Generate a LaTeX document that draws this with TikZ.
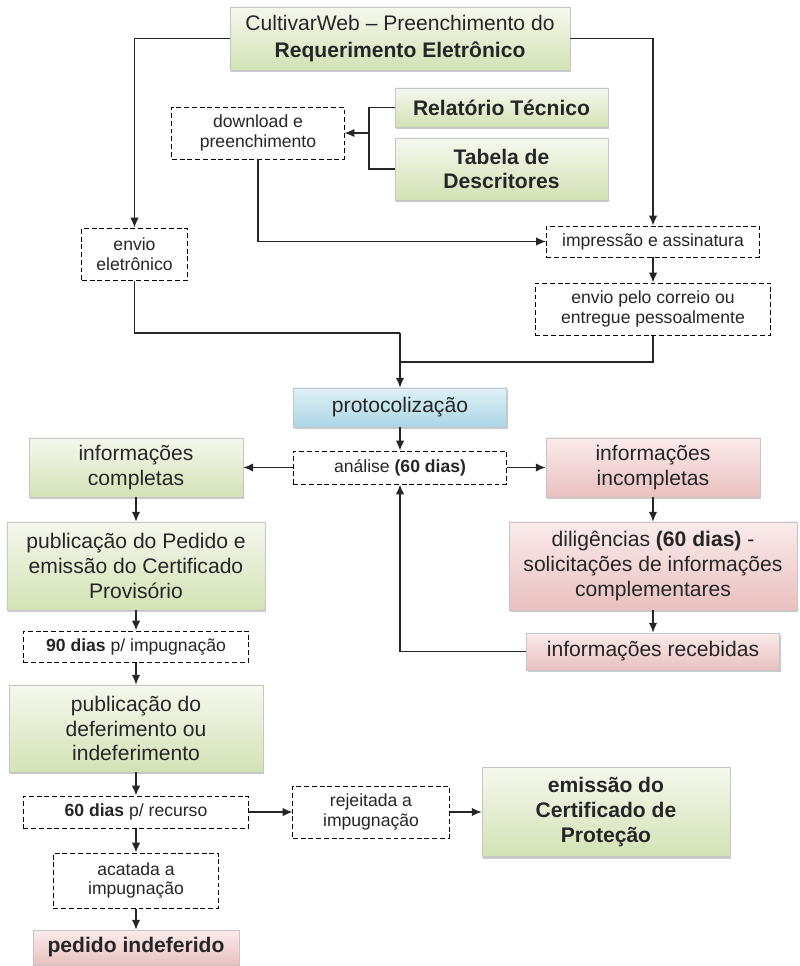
\documentclass[tikz,border=0pt]{standalone}
\usepackage{fontspec}
\setmainfont{Liberation Sans}
\usetikzlibrary{arrows.meta,shadows}

\definecolor{grtop}{HTML}{F5F8EE}
\definecolor{grbot}{HTML}{D3E2B5}
\definecolor{pktop}{HTML}{FBEBEB}
\definecolor{pkbot}{HTML}{EAC0C0}
\definecolor{bltop}{HTML}{E0F1F7}
\definecolor{blbot}{HTML}{AAD6E5}

\newcommand{\bigtxt}{\fontsize{15}{17.5}\selectfont}
\newcommand{\smltxt}{\fontsize{12.5}{14}\selectfont}

\tikzset{
  box/.style={draw=gray!45, inner sep=0pt, align=center, text=black!85,
    drop shadow={shadow xshift=1pt, shadow yshift=-1.5pt, fill=gray!70, opacity=.6}},
  greenbox/.style={box, top color=grtop, bottom color=grbot, font=\bigtxt},
  pinkbox/.style={box, top color=pktop, bottom color=pkbot, font=\bigtxt},
  bluebox/.style={box, top color=bltop, bottom color=blbot, font=\bigtxt},
  dashbox/.style={draw, dashed, dash pattern=on 3.5pt off 2pt, line width=.7pt,
    fill=white, inner sep=0pt, align=center, font=\smltxt, text=black!85},
  arr/.style={-{Latex[length=7pt,width=6pt]}, line width=1pt, black!85},
  ln/.style={line width=1pt, black!85}
}

\begin{document}
\begin{tikzpicture}[x=0.025cm,y=-0.025cm]
\useasboundingbox (0,0) rectangle (800,966);

\node[greenbox, minimum width=8.5cm, minimum height=1.575cm, font=\fontsize{15}{19}\selectfont] (web) at (400,38.5) {CultivarWeb -- Preenchimento do\\\textbf{Requerimento Eletrônico}};
\node[greenbox, minimum width=5.325cm, minimum height=0.975cm] (relat) at (501.5,107.5) {\textbf{Relatório Técnico}};
\node[greenbox, minimum width=5.325cm, minimum height=1.55cm] (tabela) at (501.5,169) {\textbf{Tabela de}\\\textbf{Descritores}};
\node[dashbox, minimum width=4.3cm, minimum height=1.3cm] (down) at (258,133) {download e\\preenchimento};
\node[dashbox, minimum width=5.325cm, minimum height=0.775cm] (impr) at (653,241.5) {impressão e assinatura};
\node[dashbox, minimum width=2.625cm, minimum height=1.3cm] (envel) at (134.5,254) {envio\\eletrônico};
\node[dashbox, minimum width=5.875cm, minimum height=1.3cm] (correio) at (653,309) {envio pelo correio ou\\entregue pessoalmente};

\node[bluebox, minimum width=5.325cm, minimum height=0.975cm] (prot) at (400,407.5) {protocolização};
\node[dashbox, minimum width=5.325cm, minimum height=0.825cm] (anal) at (400,467.5) {análise \textbf{(60 dias)}};
\node[greenbox, minimum width=5.35cm, minimum height=1.475cm] (compl) at (136,467.5) {informações\\completas};
\node[pinkbox, minimum width=5.35cm, minimum height=1.475cm] (incompl) at (653,467.5) {informações\\incompletas};
\node[greenbox, minimum width=6.45cm, minimum height=2.2cm] (pubped) at (136,566) {publicação do Pedido e\\emissão do Certificado\\Provisório};
\node[pinkbox, minimum width=7.2cm, minimum height=2.2cm] (dilig) at (653,566) {diligências \textbf{(60 dias)} -\\solicitações de informações\\complementares};
\node[dashbox, minimum width=5.625cm, minimum height=0.775cm] (d90) at (136,646.5) {\textbf{90 dias} p/ impugnação};
\node[pinkbox, minimum width=6.325cm, minimum height=0.925cm] (receb) at (653,651.5) {informações recebidas};
\node[greenbox, minimum width=6.35cm, minimum height=2.175cm] (pubdef) at (136,728.5) {publicação do\\deferimento ou\\indeferimento};
\node[dashbox, minimum width=5.625cm, minimum height=0.8cm] (d60) at (136,812) {\textbf{60 dias} p/ recurso};
\node[dashbox, minimum width=3.9cm, minimum height=1.3cm] (rejeit) at (371,812) {rejeitada a\\impugnação};
\node[greenbox, minimum width=6.2cm, minimum height=2.225cm] (emissao) at (606,812) {\textbf{emissão do}\\\textbf{Certificado de}\\\textbf{Proteção}};
\node[dashbox, minimum width=4.125cm, minimum height=1.375cm] (acat) at (136,880.5) {acatada a\\impugnação};
\node[pinkbox, minimum width=5.15cm, minimum height=0.875cm] (indef) at (136,947.5) {\textbf{pedido indeferido}};

\coordinate (j) at (369,133);
\coordinate (m1) at (400,333);
\coordinate (m2) at (400,362);

\draw[arr] (web.west) -| (envel.north);
\draw[arr] (web.east) -| (impr.north);
\draw[ln] (relat.west) -| (j) |- (tabela.west);
\draw[arr] (j) -- (down.east);
\draw[arr] (down.south) |- (impr.west);
\draw[arr] (impr.south) -- (correio.north);
\draw[ln] (envel.south) |- (m1);
\draw[ln] (correio.south) |- (m2);
\draw[arr] (m1) -- (prot.north);
\draw[arr] (prot.south) -- (anal.north);
\draw[arr] (anal.west) -- (compl.east);
\draw[arr] (anal.east) -- (incompl.west);
\draw[arr] (compl.south) -- (pubped.north);
\draw[arr] (pubped.south) -- (d90.north);
\draw[arr] (d90.south) -- (pubdef.north);
\draw[arr] (pubdef.south) -- (d60.north);
\draw[arr] (d60.south) -- (acat.north);
\draw[arr] (acat.south) -- (indef.north);
\draw[arr] (incompl.south) -- (dilig.north);
\draw[arr] (dilig.south) -- (receb.north);
\draw[arr] (receb.west) -| (anal.south);
\draw[arr] (d60.east) -- (rejeit.west);
\draw[arr] (rejeit.east) -- (emissao.west);
\end{tikzpicture}
\end{document}
